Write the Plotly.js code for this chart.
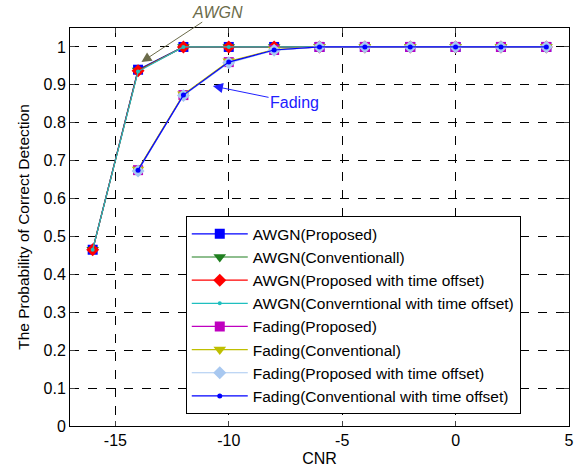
<!DOCTYPE html>
<html><head><meta charset="utf-8">
<script src="https://cdn.plot.ly/plotly-3.0.1.min.js"></script>
<style>body{margin:0;background:#fff}</style>
</head><body>
<div id="chart" style="width:584px;height:472px"></div>
<script>
const cnrAwgn = [-16, -14, -12, -10, -8, -6, -4, -2, 0, 2, 4];
const cnrFading = [-14, -12, -10, -8, -6, -4, -2, 0, 2, 4];
const awgnProposed = [0.465, 0.94, 1, 1, 1, 1, 1, 1, 1, 1, 1];
const awgnConventional = [0.465, 0.938, 1, 1, 1, 1, 1, 1, 1, 1, 1];
const awgnProposedOffset = [0.465, 0.937, 1, 1, 1, 1, 1, 1, 1, 1, 1];
const awgnConventionalOffset = [0.465, 0.935, 1, 1, 1, 1, 1, 1, 1, 1, 1];
const fadingProposed = [0.675, 0.873, 0.96, 0.992, 1, 1, 1, 1, 1, 1];
const fadingConventional = [0.677, 0.875, 0.962, 0.993, 1, 1, 1, 1, 1, 1];
const fadingProposedOffset = [0.673, 0.872, 0.958, 0.991, 1, 1, 1, 1, 1, 1];
const fadingConventionalOffset = [0.675, 0.873, 0.96, 0.992, 1, 1, 1, 1, 1, 1];
const xTickVals = [-15, -10, -5, 0, 5];
const xTickText = ['-15', '-10', '-5', '0', '5'];
const yTickVals = [0, 0.1, 0.2, 0.3, 0.4, 0.5, 0.6, 0.7, 0.8, 0.9, 1];
const yTickText = ['0', '0.1', '0.2', '0.3', '0.4', '0.5', '0.6', '0.7', '0.8', '0.9', '1'];
const names = ['AWGN(Proposed)', 'AWGN(Conventionall)', 'AWGN(Proposed with time offset)',
  'AWGN(Converntional with time offset)', 'Fading(Proposed)', 'Fading(Conventional)',
  'Fading(Proposed with time offset)', 'Fading(Conventional with time offset)'];

function tr(x, y, name, color, symbol, size) {
  return {x: x, y: y, name: name, type: 'scatter', mode: 'lines+markers',
    line: {color: color, width: 1.2},
    marker: {color: color, symbol: symbol, size: size, line: {width: 0}}};
}
const data = [
  tr(cnrAwgn, awgnProposed, names[0], '#0000ff', 'square', 10),
  tr(cnrAwgn, awgnConventional, names[1], '#1f7f1f', 'triangle-down', 11),
  tr(cnrAwgn, awgnProposedOffset, names[2], '#ff0000', 'diamond', 10),
  tr(cnrAwgn, awgnConventionalOffset, names[3], '#1fbfbf', 'circle', 4),
  tr(cnrFading, fadingProposed, names[4], '#bf00bf', 'square', 10),
  tr(cnrFading, fadingConventional, names[5], '#bfbf00', 'triangle-down', 11),
  tr(cnrFading, fadingProposedOffset, names[6], '#a8c8f0', 'diamond', 10),
  tr(cnrFading, fadingConventionalOffset, names[7], '#0000ff', 'circle', 5)
];
const FAM = 'Liberation Sans, Arial, sans-serif';
const fnt = {family: FAM, size: 16, color: '#000'};
const layout = {
  width: 584, height: 472,
  margin: {l: 70, r: 15, t: 28, b: 46},
  paper_bgcolor: '#fff', plot_bgcolor: '#fff',
  font: fnt,
  showlegend: true,
  xaxis: {range: [-17, 5], tickvals: xTickVals, ticktext: xTickText, ticks: 'inside', ticklen: 5,
    showline: true, linecolor: '#000', linewidth: 1, mirror: 'ticks',
    showgrid: true, gridcolor: '#000', griddash: 'dash', gridwidth: 1, zeroline: false,
    title: {text: 'CNR', font: fnt, standoff: 4}, tickfont: fnt},
  yaxis: {range: [0, 1.05], tickvals: yTickVals, ticktext: yTickText,
    ticks: 'inside', ticklen: 5,
    showline: true, linecolor: '#000', linewidth: 1, mirror: 'ticks',
    showgrid: true, gridcolor: '#000', griddash: 'dash', gridwidth: 1, zeroline: false,
    title: {text: 'The Probability of Correct Detection', font: {family: FAM, size: 15.5, color: '#000'}, standoff: 10}, tickfont: fnt},
  legend: {x: 0.232, y: 0.527, xanchor: 'left', yanchor: 'top',
    bgcolor: '#fff', bordercolor: '#000', borderwidth: 1,
    font: {family: FAM, size: 15.5, color: '#000'},
    itemwidth: 56, tracegroupgap: 0},
  annotations: [
    {x: -13.85, y: 0.96, xref: 'x', yref: 'y', ax: -10.5, ay: 1.092, axref: 'x', ayref: 'y',
      text: '<i>AWGN</i>', showarrow: true, arrowhead: 2, arrowsize: 2, arrowwidth: 1,
      arrowcolor: '#6b6b4a', font: {family: FAM, size: 16, color: '#6b6b4a'}},
    {x: -10.7, y: 0.897, xref: 'x', yref: 'y', ax: -7.1, ay: 0.853, axref: 'x', ayref: 'y',
      text: 'Fading', showarrow: true, arrowhead: 2, arrowsize: 2, arrowwidth: 1,
      arrowcolor: '#2020ff', font: {family: FAM, size: 16, color: '#2020ff'}}
  ]
};
Plotly.newPlot('chart', data, layout, {displayModeBar: false, staticPlot: true});
</script>
</body></html>
